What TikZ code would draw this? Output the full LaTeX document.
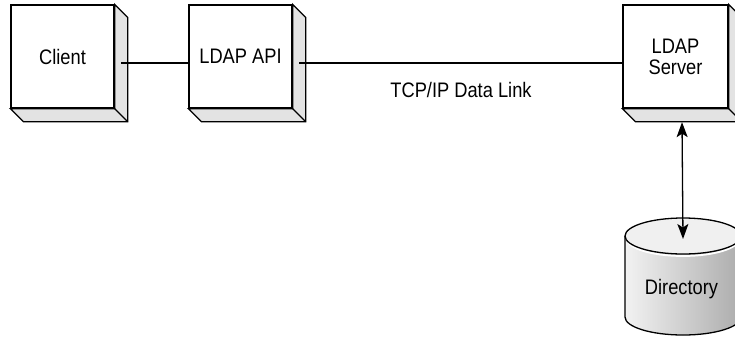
\documentclass[tikz,border=0pt]{standalone}
\usepackage{fontspec}
\setmainfont{Liberation Sans}[FakeStretch=0.87]
\usetikzlibrary{arrows.meta}
\newcommand\bevelside[1]{%
  \filldraw[sideface] (#1.north east) -- ([shift={(13,13)}]#1.north east)
    -- ([shift={(13,13)}]#1.south east) -- ([shift={(13,13)}]#1.south west)
    -- (#1.south west) -- (#1.south east) -- cycle;
  \draw[line join=miter] (#1.south east) -- ([shift={(13,13)}]#1.south east);
}
\begin{document}
\begin{tikzpicture}[x=1pt,y=-1pt,line width=1.3pt,
  frontface/.style={draw=black,fill=white,minimum width=103pt,minimum height=103pt,inner sep=0pt,
    align=center,font=\fontsize{21}{21}\selectfont},
  sideface/.style={draw=black,fill=gray!22,line join=miter},
  lbl/.style={inner sep=0pt,font=\fontsize{21}{21}\selectfont},
  conn/.style={draw=black,line width=1.3pt},
  biarrow/.style={conn,{Stealth[length=15pt,width=11pt,inset=3.5pt]}-{Stealth[length=15pt,width=11pt,inset=3.5pt]}}]
\useasboundingbox (0,0) rectangle (735,338);
% boxes
\node[frontface] (client) at (62.5,56.5) {Client};
\bevelside{client}
\node[frontface] (api) at (240.5,56.5) {LDAP API};
\bevelside{api}
\node[frontface,minimum width=105pt] (server) at (675.5,56.5) {LDAP\\Server};
\bevelside{server}
% cylinder
\shade[left color=gray!10,right color=gray!65] (625,236) -- (625,317)
  arc[start angle=180,end angle=0,x radius=58,y radius=18] -- (741,236) -- cycle;
\draw (625,236) -- (625,317)
  arc[start angle=180,end angle=0,x radius=58,y radius=18] -- (741,236);
\draw[white,line width=1.8pt] (626.5,238.5) arc[start angle=180,end angle=0,x radius=56.5,y radius=17.5];
\filldraw[fill=gray!12] (683,236) ellipse[x radius=58,y radius=18];
\node[lbl] (dir) at (681.5,289) {Directory};
\coordinate (dirtop) at (683,239);
% connectors
\draw[conn] ([shift={(6.5,6.5)}]client.east) -- ([shift={(0,6.5)}]api.west);
\draw[conn] ([shift={(6.5,6.5)}]api.east) -- ([shift={(0,6.5)}]server.west);
\node[lbl] (tcp) at (461,90) {TCP/IP Data Link};
\draw[biarrow] ([shift={(6.5,13.5)}]server.south) -- (dirtop);
\end{tikzpicture}
\end{document}
